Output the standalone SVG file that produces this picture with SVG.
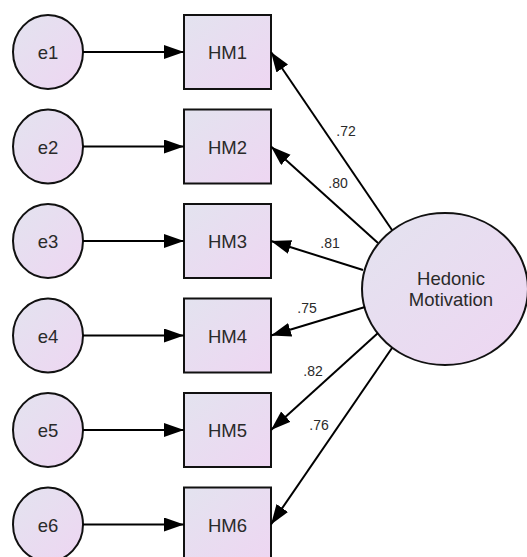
<svg xmlns="http://www.w3.org/2000/svg" width="527" height="557" viewBox="0 0 527 557">
  <defs>
    <linearGradient id="fillGrad" x1="0" y1="0" x2="1" y2="1">
      <stop offset="0" stop-color="#e3e3ef"/>
      <stop offset="1" stop-color="#eed6f2"/>
    </linearGradient>
    <marker id="arrow" markerUnits="userSpaceOnUse" markerWidth="22" markerHeight="16" refX="20" refY="7" orient="auto">
      <path d="M0,0 L20,7 L0,14 Z" fill="#000"/>
    </marker>
  </defs>
  <style>
    .shape { fill: url(#fillGrad); stroke: #111; stroke-width: 2; }
    .lbl { font-family: "Liberation Sans", Arial, sans-serif; font-size: 18.5px; fill: #2a2a2a; text-anchor: middle; }
    .coef { font-family: "Liberation Sans", Arial, sans-serif; font-size: 14px; fill: #2a2a2a; text-anchor: middle; }
    .conn { stroke: #000; stroke-width: 2; fill: none; marker-end: url(#arrow); }
  </style>
  <rect width="527" height="557" fill="#fff"/>

  <!-- error terms -->
  <g id="e1"><ellipse class="shape" cx="48" cy="52" rx="35" ry="37"/><text class="lbl" x="48" y="59">e1</text></g>
  <g id="e2"><ellipse class="shape" cx="48" cy="146.5" rx="35" ry="37"/><text class="lbl" x="48" y="153.5">e2</text></g>
  <g id="e3"><ellipse class="shape" cx="48" cy="241" rx="35" ry="37"/><text class="lbl" x="48" y="248">e3</text></g>
  <g id="e4"><ellipse class="shape" cx="48" cy="335.5" rx="35" ry="37"/><text class="lbl" x="48" y="342.5">e4</text></g>
  <g id="e5"><ellipse class="shape" cx="48" cy="430" rx="35" ry="37"/><text class="lbl" x="48" y="437">e5</text></g>
  <g id="e6"><ellipse class="shape" cx="48" cy="524.5" rx="35" ry="37"/><text class="lbl" x="48" y="531.5">e6</text></g>

  <!-- observed indicators -->
  <g id="HM1"><rect class="shape" x="184" y="15" width="87" height="74"/><text class="lbl" x="227.5" y="59">HM1</text></g>
  <g id="HM2"><rect class="shape" x="184" y="109.5" width="87" height="74"/><text class="lbl" x="227.5" y="153.5">HM2</text></g>
  <g id="HM3"><rect class="shape" x="184" y="204" width="87" height="74"/><text class="lbl" x="227.5" y="248">HM3</text></g>
  <g id="HM4"><rect class="shape" x="184" y="298.5" width="87" height="74"/><text class="lbl" x="227.5" y="342.5">HM4</text></g>
  <g id="HM5"><rect class="shape" x="184" y="393" width="87" height="74"/><text class="lbl" x="227.5" y="437">HM5</text></g>
  <g id="HM6"><rect class="shape" x="184" y="487.5" width="87" height="74"/><text class="lbl" x="227.5" y="531.5">HM6</text></g>

  <!-- latent factor -->
  <g id="HedonicMotivation">
    <ellipse class="shape" cx="445" cy="289" rx="83" ry="76"/>
    <text class="lbl" x="451" y="285">Hedonic</text>
    <text class="lbl" x="451" y="306">Motivation</text>
  </g>

  <!-- connectors -->
  <g id="connectors">
    <line class="conn" x1="83" y1="52" x2="184" y2="52"/>
    <line class="conn" x1="83" y1="146.5" x2="184" y2="146.5"/>
    <line class="conn" x1="83" y1="241" x2="184" y2="241"/>
    <line class="conn" x1="83" y1="335.5" x2="184" y2="335.5"/>
    <line class="conn" x1="83" y1="430" x2="184" y2="430"/>
    <line class="conn" x1="83" y1="524.5" x2="184" y2="524.5"/>

    <line class="conn" x1="392" y1="230" x2="271" y2="52"/>
    <line class="conn" x1="378" y1="243" x2="271" y2="146.5"/>
    <line class="conn" x1="363" y1="270" x2="271" y2="241"/>
    <line class="conn" x1="365" y1="307" x2="271" y2="335.5"/>
    <line class="conn" x1="378" y1="333" x2="271" y2="430"/>
    <line class="conn" x1="392" y1="348" x2="271" y2="524.5"/>

    <text class="coef" x="346" y="136">.72</text>
    <text class="coef" x="338" y="188">.80</text>
    <text class="coef" x="330" y="248">.81</text>
    <text class="coef" x="307" y="313">.75</text>
    <text class="coef" x="313" y="376">.82</text>
    <text class="coef" x="319" y="430">.76</text>
  </g>
</svg>
